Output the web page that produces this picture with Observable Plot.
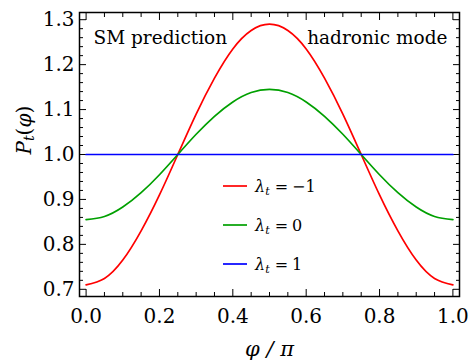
<!DOCTYPE html>
<html><head><meta charset="utf-8">
<script src="https://cdn.jsdelivr.net/npm/d3@7"></script>
<script src="https://cdn.jsdelivr.net/npm/@observablehq/plot@0.6"></script>
<style>
body{margin:0;background:#fff}
#chart svg{display:block}
</style>
</head><body><div id="chart"></div>
<script>
// phi / pi sample positions and values
const phi = [0,0.05,0.1,0.15,0.2,0.25,0.3,0.35,0.4,0.45,0.5,0.55,0.6,0.65,0.7,0.75,0.8,0.85,0.9,0.95,1.0];
const redVals = [0.710,0.724,0.765,0.830,0.910,1.000,1.090,1.170,1.235,1.276,1.290,1.276,1.235,1.170,1.090,1.000,0.910,0.830,0.765,0.724,0.710];
const greenVals = [0.855,0.862,0.883,0.915,0.955,1.000,1.045,1.085,1.117,1.138,1.145,1.138,1.117,1.085,1.045,1.000,0.955,0.915,0.883,0.862,0.855];
const blueVals = [1,1,1,1,1,1,1,1,1,1,1,1,1,1,1,1,1,1,1,1,1];
const seriesNames = ["λt = −1","λt = 0","λt = 1"];
const seriesValues = [redVals, greenVals, blueVals];
const seriesColors = ["#ff0000","#00a000","#0000ff"];
const xMajor = [0,0.2,0.4,0.6,0.8,1.0];
const xMinor = [0.05,0.1,0.15,0.25,0.3,0.35,0.45,0.5,0.55,0.65,0.7,0.75,0.85,0.9,0.95];
const yMajor = [0.7,0.8,0.9,1.0,1.1,1.2,1.3];
const yMinor = [0.72,0.74,0.76,0.78,0.82,0.84,0.86,0.88,0.92,0.94,0.96,0.98,1.02,1.04,1.06,1.08,1.12,1.14,1.16,1.18,1.22,1.24,1.26,1.28];
const xLabel = "φ / π";
const yLabel = "Pt(φ)";
const leftNote = "SM prediction";
const rightNote = "hadronic mode";

const table = seriesNames.flatMap((s, i) => phi.map((p, j) => ({series: s, phi: p, value: seriesValues[i][j]})));

const FONT = "DejaVu Serif";
const noText = {fill: "none", label: null};

const plot = Plot.plot({
  width: 469, height: 362,
  marginLeft: 79, marginRight: 10, marginTop: 12, marginBottom: 66,
  x: {domain: [-0.018, 1.018]},
  y: {domain: [0.684, 1.316]},
  color: {domain: seriesNames, range: seriesColors},
  style: {background: "#fff", color: "#000"},
  marks: [
    Plot.axisX(xMajor, {anchor: "bottom", tickSize: -7, ...noText}),
    Plot.axisX(xMajor, {anchor: "top", tickSize: -7, ...noText}),
    Plot.axisX(xMinor, {anchor: "bottom", tickSize: -4, ...noText}),
    Plot.axisX(xMinor, {anchor: "top", tickSize: -4, ...noText}),
    Plot.axisY(yMajor, {anchor: "left", tickSize: -7, ...noText}),
    Plot.axisY(yMajor, {anchor: "right", tickSize: -7, ...noText}),
    Plot.axisY(yMinor, {anchor: "left", tickSize: -4, ...noText}),
    Plot.axisY(yMinor, {anchor: "right", tickSize: -4, ...noText}),
    Plot.line(table, {x: "phi", y: "value", z: "series", stroke: "series", strokeWidth: 1.7, curve: "natural"}),
    Plot.frame({stroke: "#000", strokeWidth: 1.5}),
    Plot.text(xMajor, {x: d => d, text: d => d.toFixed(1), frameAnchor: "bottom", dy: 26, lineAnchor: "bottom", fontSize: 20, fill: "#000"}),
    Plot.text(yMajor, {y: d => d, text: d => d.toFixed(1), frameAnchor: "left", dx: -5, textAnchor: "end", lineAnchor: "middle", fontSize: 20, fill: "#000"}),
    Plot.text([xLabel], {text: d => d, frameAnchor: "bottom", dy: 59, lineAnchor: "bottom", fontSize: 21, fontStyle: "italic", fill: "#000"}),
    Plot.text([yLabel], {text: d => d, frameAnchor: "left", dx: -49, rotate: -90, lineAnchor: "bottom", fontSize: 20, fill: "#000"}),
    Plot.text([leftNote], {text: d => d, frameAnchor: "top-left", dx: 14, dy: 31, lineAnchor: "bottom", textAnchor: "start", fontSize: 18.5, fill: "#000"}),
    Plot.text([rightNote], {text: d => d, frameAnchor: "top-right", dx: -12, dy: 31, lineAnchor: "bottom", textAnchor: "end", fontSize: 18.5, fill: "#000"})
  ]
});
document.getElementById("chart").appendChild(plot);

const svg = d3.select(plot);
// rich text for the y label: italic P, subscript t, (italic φ)
svg.selectAll("text").filter(function(){ return this.textContent === yLabel; }).each(function(){
  const t = d3.select(this); t.text("");
  t.append("tspan").attr("font-style", "italic").text("P");
  t.append("tspan").attr("font-style", "italic").attr("font-size", "0.7em").attr("dy", "0.25em").text("t");
  t.append("tspan").attr("dy", "-0.175em").text("(");
  t.append("tspan").attr("font-style", "italic").text("φ");
  t.append("tspan").text(")");
});

// legend
const leg = svg.append("g").attr("font-size", 16).attr("text-anchor", "start");
seriesNames.forEach((name, i) => {
  const y = 186 + i * 39;
  leg.append("line").attr("x1", 223).attr("x2", 247).attr("y1", y).attr("y2", y)
    .attr("stroke", seriesColors[i]).attr("stroke-width", 1.7);
  const t = leg.append("text").attr("x", 255).attr("y", y + 6).attr("fill", "#000").attr("text-anchor", "start");
  const rest = name.split("= ")[1];
  t.append("tspan").attr("font-style", "italic").text("λ");
  t.append("tspan").attr("font-style", "italic").attr("font-size", "0.7em").attr("dy", "0.25em").text("t");
  t.append("tspan").attr("dy", "-0.175em").attr("dx", 5).text("=");
  t.append("tspan").attr("dx", 4).text(rest);
});

svg.attr("font-family", FONT);
svg.selectAll("g").attr("font-family", FONT);
svg.selectAll("text").attr("font-family", FONT).style("font-family", FONT);
</script>
</body></html>
